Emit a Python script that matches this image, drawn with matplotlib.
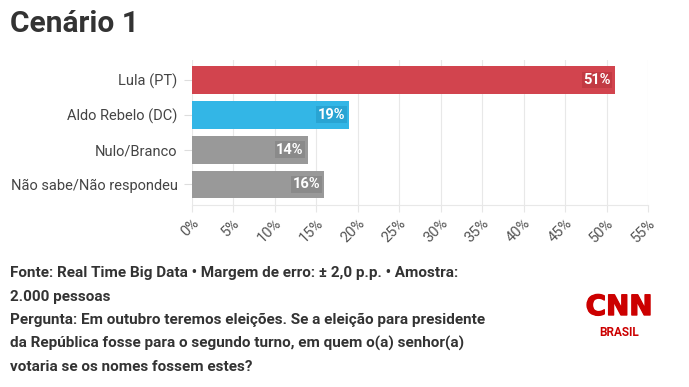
import matplotlib
matplotlib.use("Agg")
import matplotlib.pyplot as plt
from matplotlib.ticker import FuncFormatter
import matplotlib.patheffects as pe

categories = ["Lula (PT)", "Aldo Rebelo (DC)", "Nulo/Branco", "Não sabe/Não respondeu"]
values = [51, 19, 14, 16]
colors = ["#D2444E", "#33B6E6", "#999999", "#999999"]
label_bg = ["#B8343D", "#2399C7", "#808080", "#808080"]
xticks = list(range(0, 56, 5))

plt.rcParams['font.family'] = ['Roboto', 'DejaVu Sans']

fig = plt.figure(figsize=(6.89, 3.87), dpi=100)
ax = fig.add_axes([191.5/689, 1-205/387, 456.5/689, 145/387])

y = list(range(len(categories)))
ax.barh(y, values, height=0.8, color=colors, zorder=3)
ax.set_ylim(3.59, -0.575)
ax.set_xlim(0, 55)
ax.set_xticks(xticks)
ax.xaxis.set_major_formatter(FuncFormatter(lambda v, p: f"{int(v)}%"))
ax.set_yticks(y)
ax.set_yticklabels(categories, fontsize=10.5, color="#444444")
ax.tick_params(axis='y', length=6, color="#dddddd", pad=4)
ax.tick_params(axis='x', length=5, color="#e6e6e6", labelsize=10.5, labelcolor="#555555", pad=3)
for lab in ax.get_xticklabels():
    lab.set_rotation(45)
    lab.set_ha('right')
    lab.set_va('top')
    lab.set_rotation_mode('anchor')
ax.grid(axis='x', color="#e8e8e8", linewidth=0.8, zorder=0)
for s in ["top", "right", "left"]:
    ax.spines[s].set_visible(False)
ax.spines["bottom"].set_color("#e8e8e8")

for yi, v, bg in zip(y, values, label_bg):
    ax.text(v - 0.5, yi, f"{v}%", ha='right', va='center', color='white',
            fontsize=10.5, fontweight='bold', zorder=4,
            bbox=dict(boxstyle='square,pad=0.1', fc=bg, ec='none', alpha=0.6))

fig.text(10/689, 1-24/387, "Cenário 1", fontsize=21.5, fontweight='bold', color="#333333",
         ha='left', va='center')

footer = ["Fonte: Real Time Big Data • Margem de erro: ± 2,0 p.p. • Amostra:",
          "2.000 pessoas",
          "Pergunta: Em outubro teremos eleições. Se a eleição para presidente",
          "da República fosse para o segundo turno, em quem o(a) senhor(a)",
          "votaria se os nomes fossem estes?"]
for i, line in enumerate(footer):
    fig.text(10/689, 1-(273 + i*23.5)/387, line, fontsize=11, fontweight='bold',
             color="#333333", ha='left', va='center')

fig.text(619/689, 1-307/387, "CNN", fontsize=20, fontweight='bold', color="#CC0000",
         ha='center', va='center', family=['DejaVu Sans'],
         path_effects=[pe.withStroke(linewidth=1, foreground="#CC0000")])
fig.text(619/689, 1-332/387, "BRASIL", fontsize=8.5, fontweight='bold', color="#CC0000",
         ha='center', va='center')

fig.savefig("out.png", dpi=100, facecolor="white")
